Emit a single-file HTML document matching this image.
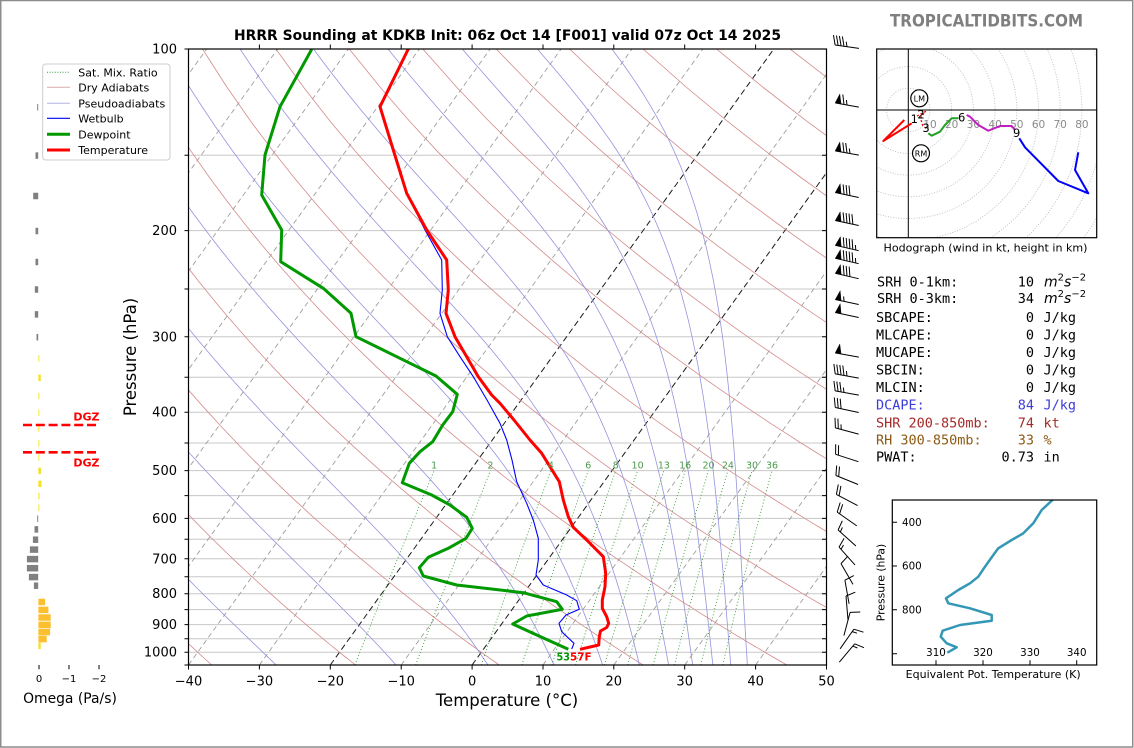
<!DOCTYPE html>
<html><head><meta charset="utf-8">
<style>
html,body{margin:0;padding:0;background:#fff;}
svg{display:block;}
text{font-family:"DejaVu Sans","Liberation Sans",sans-serif;}
.mono{font-family:"DejaVu Sans Mono","Liberation Mono",monospace;font-size:13.5px;}
</style></head><body>
<svg id="s" width="1134" height="748" viewBox="0 0 1134 748" xmlns="http://www.w3.org/2000/svg" fill="#000">
<defs>
<clipPath id="cp"><rect x="188.5" y="49" width="638" height="616"/></clipPath>
<clipPath id="hc"><rect x="876.7" y="49" width="220" height="188.7"/></clipPath>
<clipPath id="tc"><rect x="892.3" y="500" width="204.4" height="165"/></clipPath>
</defs>
<rect x="0" y="0" width="1134" height="748" fill="#fff"/>
<rect x="0.75" y="0.5" width="1132" height="746.5" fill="none" stroke="#8c8c8c" stroke-width="1.5"/>

<!-- title -->
<text x="507.5" y="40" text-anchor="middle" font-size="13.9" font-weight="bold" textLength="547" lengthAdjust="spacingAndGlyphs">HRRR Sounding at KDKB Init: 06z Oct 14 [F001] valid 07z Oct 14 2025</text>

<!-- main plot -->
<g clip-path="url(#cp)">
<path d="M188.5,155.2H826.5M188.5,230.6H826.5M188.5,289H826.5M188.5,336.8H826.5M188.5,377.2H826.5M188.5,412.2H826.5M188.5,443H826.5M188.5,470.6H826.5M188.5,495.6H826.5M188.5,518.4H826.5M188.5,539.3H826.5M188.5,558.8H826.5M188.5,576.8H826.5M188.5,593.7H826.5M188.5,609.6H826.5M188.5,624.6H826.5M188.5,638.8H826.5M188.5,652.2H826.5" stroke="#c8c8c8" stroke-width="1" fill="none"/>
<g id="bg"></g>
<polyline fill="none" stroke="#0000ff" stroke-width="1.1" stroke-linejoin="round" points="408.3,49 380,106.7 393.3,150 406.7,193.3 425,230 441.7,260 442.3,290 440,313.3 447.3,336.7 460,356.7 473.3,376.7 487,400 500,423.3 506.7,440 512,460 516.7,481.7 526.7,503.3 533.3,520 538.3,538.3 538.3,560 536,575 543.3,585 566.7,595 576.7,600.7 579.3,609.3 566,615 559,623.3 561.7,631.7 574,643.3 571.7,649"/>
<polyline fill="none" stroke="#009900" stroke-width="3" stroke-linejoin="round" points="311.7,49.3 280,106.7 265,155 261.7,195 281.7,230 280.7,261.7 323.3,288.3 351,313.3 356,336.7 400,358.3 436,376 457.3,394.3 452.7,411.7 442.7,425 432.7,441.7 420,451.7 409.3,463.3 402.3,482.7 431.7,495 450,505 466.7,517.3 472.3,528.3 466,538.3 448.3,548.3 428.3,557.3 419.3,567.7 423.3,576 456.7,585 523.3,592.7 556.7,601.7 562.3,609.3 526.7,616 512.7,624 541.7,637.3 568.3,649.3"/>
<polyline fill="none" stroke="#ff0000" stroke-width="3" stroke-linejoin="round" points="408.3,49 380,106.7 393.3,150 406.7,193.3 426.7,230 446.7,260 448.3,290 446,313.3 455,336.7 466.7,356.7 478.3,376.7 491.7,395 500,403.3 514,420 530,440 541.7,453.3 559.3,481.7 563.3,500 568.3,516.7 573.3,527.3 586.7,540 603.3,556.7 605.7,573.3 605,586.7 602.3,600 602.3,608.3 606.7,616.7 608.7,623.3 606.7,627.5 600.5,631 599.3,636.7 598.7,645 580,649.3"/>
</g>
<!-- mixing ratio labels -->
<g font-size="9.5" fill="#4c9a4c" text-anchor="middle">
<text x="434.2" y="468.5">1</text><text x="490.4" y="468.5">2</text><text x="550.9" y="468.5">4</text><text x="588.3" y="468.5">6</text><text x="615.8" y="468.5">8</text><text x="637.6" y="468.5">10</text><text x="663.9" y="468.5">13</text><text x="685.2" y="468.5">16</text><text x="708.5" y="468.5">20</text><text x="727.9" y="468.5">24</text><text x="752" y="468.5">30</text><text x="772" y="468.5">36</text>
</g>
<!-- surface labels -->
<text x="556.5" y="660.3" font-size="10.5" font-weight="bold" fill="#009900" textLength="13.5" lengthAdjust="spacingAndGlyphs">53</text>
<text x="570" y="660.3" font-size="10.5" font-weight="bold" fill="#ff0000" textLength="21.7" lengthAdjust="spacingAndGlyphs">57F</text>

<!-- axes frame and ticks -->
<rect x="188.5" y="49" width="638" height="616" fill="none" stroke="#000" stroke-width="1.2"/>
<path d="M184.5,49H188.5M184.5,155.2H188.5M184.5,230.6H188.5M184.5,289H188.5M184.5,336.8H188.5M184.5,377.2H188.5M184.5,412.2H188.5M184.5,443H188.5M184.5,470.6H188.5M184.5,495.6H188.5M184.5,518.4H188.5M184.5,539.3H188.5M184.5,558.8H188.5M184.5,576.8H188.5M184.5,593.7H188.5M184.5,609.6H188.5M184.5,624.6H188.5M184.5,638.8H188.5M184.5,652.2H188.5M184.5,665H188.5
M822,155.2H826.5M822,230.6H826.5M822,289H826.5M822,336.8H826.5M822,377.2H826.5M822,412.2H826.5M822,443H826.5M822,470.6H826.5M822,495.6H826.5M822,518.4H826.5M822,539.3H826.5M822,558.8H826.5M822,576.8H826.5M822,593.7H826.5M822,609.6H826.5M822,624.6H826.5M822,638.8H826.5M822,652.2H826.5
M188.5,665V669.5M259.4,665V669.5M330.3,665V669.5M401.2,665V669.5M472.1,665V669.5M543,665V669.5M613.8,665V669.5M684.7,665V669.5M755.6,665V669.5M826.5,665V669.5
M259.4,49V44.5M330.3,49V44.5M401.2,49V44.5M472.1,49V44.5M543,49V44.5M613.8,49V44.5M684.7,49V44.5M755.6,49V44.5" stroke="#000" stroke-width="1"/>
<g font-size="13" text-anchor="end">
<text x="177" y="53.5">100</text><text x="177" y="235.1">200</text><text x="177" y="341.3">300</text><text x="177" y="416.7">400</text><text x="177" y="475.1">500</text><text x="177" y="522.9">600</text><text x="177" y="563.3">700</text><text x="177" y="598.2">800</text><text x="177" y="629.1">900</text><text x="177" y="656.7">1000</text>
</g>
<g font-size="13" text-anchor="middle">
<text x="188.5" y="685.4">−40</text><text x="259.4" y="685.4">−30</text><text x="330.3" y="685.4">−20</text><text x="401.2" y="685.4">−10</text><text x="472.1" y="685.4">0</text><text x="543" y="685.4">10</text><text x="613.8" y="685.4">20</text><text x="684.7" y="685.4">30</text><text x="755.6" y="685.4">40</text><text x="826.5" y="685.4">50</text>
</g>
<text x="507" y="706" font-size="16.5" text-anchor="middle">Temperature (°C)</text>
<text transform="translate(136,357) rotate(-90)" font-size="16.5" text-anchor="middle">Pressure (hPa)</text>

<!-- legend -->
<rect x="42.7" y="64" width="127.3" height="96" rx="3" fill="#fff" fill-opacity="0.85" stroke="#cccccc" stroke-width="1"/>
<line x1="47" y1="72.3" x2="70" y2="72.3" stroke="#3a9a3a" stroke-width="1" stroke-dasharray="1,1.6"/>
<line x1="47" y1="87.3" x2="70" y2="87.3" stroke="#dcaaaa" stroke-width="1"/>
<line x1="47" y1="103.3" x2="70" y2="103.3" stroke="#b4b4e4" stroke-width="1"/>
<line x1="47" y1="118.3" x2="70" y2="118.3" stroke="#0000ff" stroke-width="1.2"/>
<line x1="47" y1="134.3" x2="70" y2="134.3" stroke="#009900" stroke-width="3"/>
<line x1="47" y1="150" x2="70" y2="150" stroke="#ff0000" stroke-width="3"/>
<g font-size="11">
<text x="78.3" y="76.3">Sat. Mix. Ratio</text>
<text x="78.3" y="91.3">Dry Adiabats</text>
<text x="78.3" y="107.3">Pseudoadiabats</text>
<text x="78.3" y="122.3">Wetbulb</text>
<text x="78.3" y="138.3">Dewpoint</text>
<text x="78.3" y="154">Temperature</text>
</g>

<!-- omega panel -->
<g fill="#808080">
<rect x="37.2" y="104.05" width="1" height="6.5"/>
<rect x="35.5" y="152.35" width="2.7" height="6.5"/>
<rect x="33.2" y="192.75" width="5" height="6.5"/>
<rect x="35.5" y="227.75" width="2.7" height="6.5"/>
<rect x="35.5" y="258.75" width="2.7" height="6.5"/>
<rect x="34.8" y="286.25" width="3.4" height="6.5"/>
<rect x="34.8" y="311.15" width="3.4" height="6.5"/>
<rect x="36.5" y="333.95" width="1.7" height="6.5"/>
<rect x="37.2" y="515.45" width="1" height="6.5"/>
<rect x="34.5" y="526.15" width="3.7" height="6.5"/>
<rect x="32.9" y="536.45" width="5.3" height="6.5"/>
<rect x="29.9" y="546.35" width="8.3" height="6.5"/>
<rect x="26.9" y="555.85" width="11.3" height="6.5"/>
<rect x="26.9" y="564.95" width="11.3" height="6.5"/>
<rect x="28.9" y="573.85" width="9.3" height="6.5"/>
<rect x="33.9" y="582.45" width="4.3" height="6.5"/>
</g>
<g fill="#f3e21c">
<rect x="38.4" y="355.15" width="0.9" height="6.5"/>
<rect x="38.4" y="374.55" width="2.4" height="6.5"/>
<rect x="38.4" y="392.65" width="0.9" height="6.5"/>
<rect x="38.4" y="409.55" width="0.9" height="6.5"/>
<rect x="38.4" y="425.25" width="0.9" height="6.5"/>
<rect x="38.4" y="440.05" width="0.9" height="6.5"/>
<rect x="38.4" y="454.25" width="0.9" height="6.5"/>
<rect x="38.4" y="467.65" width="2.5" height="6.5"/>
<rect x="38.4" y="480.55" width="3" height="6.5"/>
<rect x="38.4" y="492.75" width="1" height="6.5"/>
<rect x="38.4" y="504.35" width="0.9" height="6.5"/>
<rect x="38.4" y="642.65" width="2.3" height="6.5"/>
</g>
<g fill="#fcbf2e">
<rect x="38.4" y="598.75" width="6.7" height="6.5"/>
<rect x="38.4" y="606.65" width="10" height="6.5"/>
<rect x="38.4" y="614.25" width="12.3" height="6.5"/>
<rect x="38.4" y="621.65" width="12.3" height="6.5"/>
<rect x="38.4" y="628.85" width="11.7" height="6.5"/>
<rect x="38.4" y="635.85" width="8.3" height="6.5"/>
</g>
<path d="M23,425H99M23,452.3H99" stroke="#ff0000" stroke-width="2.6" stroke-dasharray="9,3.8"/>
<text x="99.5" y="420.7" font-size="11" font-weight="bold" text-anchor="end" fill="#ff0000">DGZ</text>
<text x="99.5" y="466.3" font-size="11" font-weight="bold" text-anchor="end" fill="#ff0000">DGZ</text>
<path d="M39,665V669.3M69,665V669.3M99,665V669.3" stroke="#000" stroke-width="1"/>
<g font-size="10" text-anchor="middle">
<text x="39" y="682">0</text><text x="69" y="682">−1</text><text x="99" y="682">−2</text>
</g>
<text x="70" y="703" font-size="13.9" text-anchor="middle">Omega (Pa/s)</text>

<!-- wind barbs -->
<g id="barbs"></g>

<!-- hodograph -->
<text x="986.5" y="26.7" font-size="17" font-weight="bold" text-anchor="middle" fill="#7f7f7f" textLength="193" lengthAdjust="spacingAndGlyphs">TROPICALTIDBITS.COM</text>
<g clip-path="url(#hc)" fill="none" stroke="#bdbdbd" stroke-width="0.9" stroke-dasharray="1,1.6">
<circle cx="908.3" cy="110" r="21.7"/><circle cx="908.3" cy="110" r="43.4"/><circle cx="908.3" cy="110" r="65.1"/><circle cx="908.3" cy="110" r="86.8"/><circle cx="908.3" cy="110" r="108.5"/><circle cx="908.3" cy="110" r="130.2"/><circle cx="908.3" cy="110" r="151.9"/><circle cx="908.3" cy="110" r="173.6"/><circle cx="908.3" cy="110" r="195.3"/><circle cx="908.3" cy="110" r="217"/>
</g>
<path d="M908.3,49V237.7M876.7,110H1096.7" stroke="#000" stroke-width="1"/>
<g font-size="10.5" text-anchor="middle" fill="#8a8a8a">
<text x="930" y="128">10</text><text x="951.7" y="128">20</text><text x="973.4" y="128">30</text><text x="995.1" y="128">40</text><text x="1016.8" y="128">50</text><text x="1038.5" y="128">60</text><text x="1060.2" y="128">70</text><text x="1081.9" y="128">80</text>
</g>
<g clip-path="url(#hc)" fill="none" stroke-width="2" stroke-linejoin="round">
<polyline stroke="#ff0000" points="911.7,123.3 883.3,141 904.3,120"/>
<polyline stroke="#ff0000" stroke-width="1.3" stroke-dasharray="2,2" points="917,116 925.5,111.5 920.5,118 922.5,125 927,129.5"/>
<polyline stroke="#22a022" points="928.3,133.3 931.7,135.7 940,131.7 945,125 951.7,118.3 958.3,118.3"/>
<polyline stroke="#c020c0" points="966.7,115 970,116.7 978.3,125 988.3,130.7 1000,126 1011.7,126 1015,130"/>
<polyline stroke="#0000ff" points="1019.3,138.3 1025,147.3 1058.3,181 1088.3,193.3 1075,170 1078.3,152.3"/>
</g>
<g font-size="11.5" text-anchor="middle">
<text x="914.3" y="123.2">1</text><text x="921" y="118.5">2</text><text x="926" y="131.9">3</text><text x="961.7" y="121.5">6</text><text x="1016.7" y="136.9">9</text>
</g>
<circle cx="919.3" cy="98.3" r="8.5" fill="#fff" stroke="#000" stroke-width="1.2"/>
<circle cx="921" cy="153.3" r="8.5" fill="#fff" stroke="#000" stroke-width="1.2"/>
<text x="919.3" y="101.3" font-size="8" text-anchor="middle">LM</text>
<text x="921" y="156.3" font-size="8" text-anchor="middle">RM</text>
<rect x="876.7" y="49" width="220" height="188.7" fill="none" stroke="#000" stroke-width="1.2"/>
<text x="985.5" y="251.5" font-size="11" text-anchor="middle" textLength="204" lengthAdjust="spacingAndGlyphs">Hodograph (wind in kt, height in km)</text>

<!-- stats -->
<g class="mono">
<text class="mono" x="877" y="286.4">SRH 0-1km:</text><text class="mono" x="1034" y="286.4" text-anchor="end">10</text>
<text x="1044" y="286.4" font-size="14"><tspan font-style="italic">m</tspan><tspan font-size="10" dy="-6">2</tspan><tspan font-style="italic" dy="6">s</tspan><tspan font-size="10" dy="-6">−2</tspan></text>
<text class="mono" x="877" y="303">SRH 0-3km:</text><text class="mono" x="1034" y="303" text-anchor="end">34</text>
<text x="1044" y="303" font-size="14"><tspan font-style="italic">m</tspan><tspan font-size="10" dy="-6">2</tspan><tspan font-style="italic" dy="6">s</tspan><tspan font-size="10" dy="-6">−2</tspan></text>
<text class="mono" x="876" y="322">SBCAPE:</text><text class="mono" x="1034" y="322" text-anchor="end">0</text><text class="mono" x="1043.5" y="322">J/kg</text>
<text class="mono" x="876" y="339.4">MLCAPE:</text><text class="mono" x="1034" y="339.4" text-anchor="end">0</text><text class="mono" x="1043.5" y="339.4">J/kg</text>
<text class="mono" x="876" y="357">MUCAPE:</text><text class="mono" x="1034" y="357" text-anchor="end">0</text><text class="mono" x="1043.5" y="357">J/kg</text>
<text class="mono" x="876" y="374.7">SBCIN:</text><text class="mono" x="1034" y="374.7" text-anchor="end">0</text><text class="mono" x="1043.5" y="374.7">J/kg</text>
<text class="mono" x="876" y="392">MLCIN:</text><text class="mono" x="1034" y="392" text-anchor="end">0</text><text class="mono" x="1043.5" y="392">J/kg</text>
<text class="mono" x="876" y="409.7" fill="#3c3cd8">DCAPE:</text><text class="mono" x="1034" y="409.7" text-anchor="end" fill="#3c3cd8">84</text><text class="mono" x="1043.5" y="409.7" fill="#3c3cd8">J/kg</text>
<text class="mono" x="876" y="427.4" fill="#a52a2a">SHR 200-850mb:</text><text class="mono" x="1034" y="427.4" text-anchor="end" fill="#a52a2a">74</text><text class="mono" x="1043.5" y="427.4" fill="#a52a2a">kt</text>
<text class="mono" x="876" y="444.7" fill="#8c5a14">RH 300-850mb:</text><text class="mono" x="1034" y="444.7" text-anchor="end" fill="#8c5a14">33</text><text class="mono" x="1043.5" y="444.7" fill="#8c5a14">%</text>
<text class="mono" x="876" y="461.4">PWAT:</text><text class="mono" x="1034" y="461.4" text-anchor="end">0.73</text><text class="mono" x="1043.5" y="461.4">in</text>
</g>

<!-- theta-e panel -->
<g clip-path="url(#tc)">
<polyline fill="none" stroke="#3497b5" stroke-width="2.5" stroke-linejoin="round" points="1056,496 1051.7,500.7 1041.7,510 1033.3,523.3 1023.3,533.3 1011.7,540 998.3,548.3 993.3,555 985,566.7 978.3,576.7 970,583.3 958.3,590 946,598.3 948.3,603.3 970,608.3 991.7,615 991.7,620.7 960,625 942.7,630.7 940.7,636.7 946.7,643.3 956.7,647.3 947.3,652.7"/>
</g>
<rect x="892.3" y="500" width="204.4" height="165" fill="none" stroke="#000" stroke-width="1.2"/>
<path d="M892.3,522.3H897M892.3,566H897M892.3,609.7H897M892.3,653.7H897M936,665V660.3M983,665V660.3M1030,665V660.3M1076.7,665V660.3" stroke="#000" stroke-width="1"/>
<g font-size="10.3" text-anchor="end">
<text x="921.7" y="526">400</text><text x="921.7" y="569.7">600</text><text x="921.7" y="613.4">800</text>
</g>
<g font-size="10.3" text-anchor="middle">
<text x="936" y="656">310</text><text x="983" y="656">320</text><text x="1030" y="656">330</text><text x="1076.7" y="656">340</text>
</g>
<text transform="translate(884.5,582.5) rotate(-90)" font-size="10.8" text-anchor="middle">Pressure (hPa)</text>
<text x="993.2" y="678" font-size="10.8" text-anchor="middle" textLength="175" lengthAdjust="spacingAndGlyphs">Equivalent Pot. Temperature (K)</text>
</svg>
<script>
(function(){
var X0=188.5,PX=7.089,YT=49,YB=665,B=616/Math.log(10.5),SK=0.72;
function yP(p){return YT+B*Math.log(p/100);}
function xT(T,p){return X0+(T+40)*PX+SK*(YB-yP(p));}
var NS="http://www.w3.org/2000/svg";
function add(g,tag,a){var e=document.createElementNS(NS,tag);for(var k in a)e.setAttribute(k,a[k]);g.appendChild(e);return e;}
var bg=document.getElementById('bg');
var i,p,T,d;
/* isotherms */
for(T=-130;T<=50;T+=10){
 var blk=(T===0||T===-20);
 add(bg,'line',{x1:xT(T,1050).toFixed(1),y1:YB,x2:xT(T,100).toFixed(1),y2:YT,stroke:blk?'#1a1a1a':'#9e9e9e','stroke-width':blk?1:0.9,'stroke-dasharray':blk?'6,3.5':'5,3.5'});
}
/* dry adiabats */
for(var th=-40;th<=300;th+=20){
 d='';
 for(i=0;i<=60;i++){p=1050-i*(950/60);T=(th+273.15)*Math.pow(p/1000,0.28571)-273.15;d+=(i?'L':'M')+xT(T,p).toFixed(1)+','+yP(p).toFixed(1);}
 add(bg,'path',{d:d,fill:'none',stroke:'#d48a8a','stroke-width':0.8});
}
/* pseudoadiabats: constant theta-e */
function thetaE(Tk,pp){var tc=Tk-273.15;var es=6.112*Math.exp(17.67*tc/(tc+243.5));if(es>=pp*0.95)return 1e4;var r=621.97*es/(pp-es);return Tk*Math.pow(1000/pp,0.2854*(1-0.00028*r))*Math.exp((3.376/Tk-0.00254)*r*(1+0.00081*r));}
function Tfor(te,pp){var lo=120,hi=345;for(var k=0;k<50;k++){var m=(lo+hi)/2;if(thetaE(m,pp)>te)hi=m;else lo=m;}return (lo+hi)/2;}
[243.15,263.15,283.15,303.15,323.15,343.15,363.15,383.5,404,425.5,449].forEach(function(te){
 d='';
 for(i=0;i<=80;i++){p=1050*Math.pow(100/1050,i/80);var Tk=Tfor(te,p);d+=(i?'L':'M')+xT(Tk-273.15,p).toFixed(1)+','+yP(p).toFixed(1);}
 add(bg,'path',{d:d,fill:'none',stroke:'#9494dc','stroke-width':0.8});
});
/* mixing ratio */
[1,2,4,6,8,10,13,16,20,24,30,36].forEach(function(w){
 d='';
 for(i=0;i<=22;i++){p=1050-i*25;var e=(w/1000)*p/(0.62195691+w/1000);var l=Math.log(e/6.112);var td=243.5*l/(17.67-l);d+=(i?'L':'M')+xT(td,p).toFixed(1)+','+yP(p).toFixed(1);}
 add(bg,'path',{d:d,fill:'none',stroke:'#3a9a3a','stroke-width':0.9,'stroke-dasharray':'1,2.2'});
});
/* barbs */
var gb=document.getElementById('barbs');
function barb(cy,phi,S){
 var cx=847,L=24,H=9.6,W=6,SP=3;
 var r=phi*Math.PI/180,dx=Math.sin(r),dy=-Math.cos(r),nx=-dy,ny=dx;
 var bx=cx-dx*L/2,by=cy-dy*L/2;
 function P(s,h){return (bx+dx*s+nx*h).toFixed(1)+','+(by+dy*s+ny*h).toFixed(1);}
 var dd='M'+P(0,0)+'L'+P(L,0),tri='';
 var sp=Math.round(S/5)*5,nf=Math.floor(sp/50);sp-=nf*50;var nb=Math.floor(sp/10);sp-=nb*10;var half=sp>=5;
 var off=L;
 for(var k=0;k<nf;k++){if(off!==L)off+=SP/2;tri+='M'+P(off,0)+'L'+P(off-W/2,H)+'L'+P(off-W,0)+'Z';off-=W+SP;}
 for(k=0;k<nb;k++){dd+='M'+P(off,0)+'L'+P(off+W/2,H);off-=SP;}
 if(half){if(off===L)off-=1.5*SP;dd+='M'+P(off,0)+'L'+P(off+W/4,H/2);}
 add(gb,'path',{d:dd,stroke:'#000','stroke-width':1,fill:'none'});
 if(tri)add(gb,'path',{d:tri,fill:'#000',stroke:'#000','stroke-width':0.4});
}
[[46.7,278,45],[105,280,65],[153,280,75],[195,282,80],[223,282,90],[248,283,95],[261,283,95],[276,283,80],[302,282,55],[315,282,50],[355,280,50],[376,280,45],[393,280,35],[410,282,30],[431,285,25],[458,288,20],
 [480,292,20],[500,298,20],[519,305,20],[538,312,15],[556,318,15],[574,330,10],[592,350,10],[608,355,10],[624,15,10],[639,35,15],[653,40,15]].forEach(function(b){barb(b[0],b[1],b[2]);});
})();
</script>
</body></html>
